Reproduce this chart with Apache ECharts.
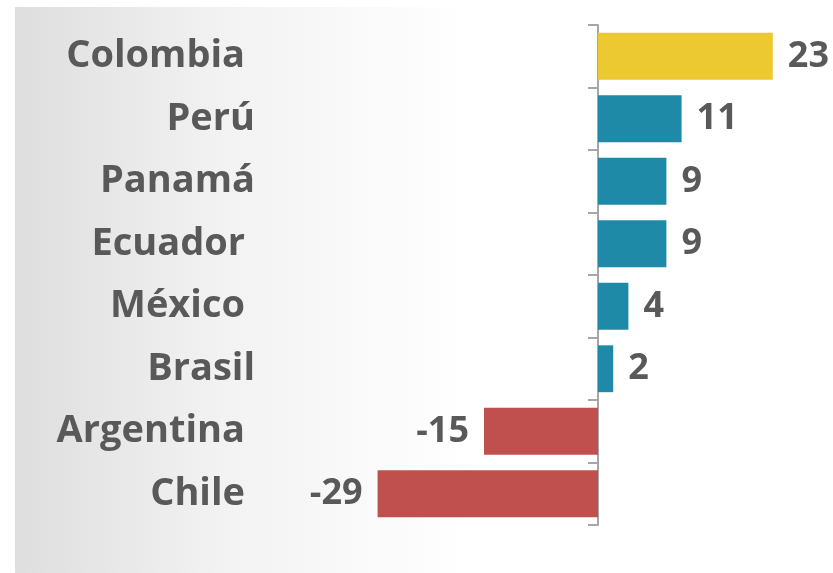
<!DOCTYPE html>
<html>
<head>
<meta charset="utf-8">
<script src="https://cdn.jsdelivr.net/npm/echarts@6/dist/echarts.min.js"></script>
<style>
html,body{margin:0;padding:0;background:#fff;}
#chart{width:833px;height:573px;}
</style>
</head>
<body>
<div id="chart"></div>
<script>
const categories = ['Colombia', 'Perú', 'Panamá', 'Ecuador', 'México', 'Brasil', 'Argentina', 'Chile'];
const values = [23, 11, 9, 9, 4, 2, -15, -29];
const barColors = ['#ECC831', '#1F8AA7', '#1F8AA7', '#1F8AA7', '#1F8AA7', '#1F8AA7', '#C0504D', '#C0504D'];
// label right-edge offsets seen in the reference (some labels sit further right)
const labelShift = [10, 0, 0, 10, 10, 0, 10, 10];

const chart = echarts.init(document.getElementById('chart'), null, {renderer: 'canvas'});
const font = '"Open Sans", "DejaVu Sans", sans-serif';

chart.setOption({
  animation: false,
  backgroundColor: '#ffffff',
  graphic: [{
    type: 'rect',
    z: -10,
    silent: true,
    shape: {x: 15, y: 7, width: 818, height: 566},
    style: {
      fill: new echarts.graphic.LinearGradient(0, 0, 1, 0, [
        {offset: 0, color: '#dedede'},
        {offset: 0.25, color: '#f2f2f2'},
        {offset: 0.55, color: '#ffffff'},
        {offset: 1, color: '#ffffff'}
      ])
    }
  }],
  grid: {left: 370, right: 7, top: 25, bottom: 48, containLabel: false, outerBoundsMode: 'none'},
  xAxis: {
    type: 'value', min: -30, max: 30, show: false,
    splitLine: {show: false}
  },
  yAxis: {
    type: 'category',
    inverse: true,
    data: categories.map((c, i) => ({value: c, textStyle: {padding: [0, labelShift[i], 0, 0]}})),
    axisLine: {show: true, onZero: true, lineStyle: {color: '#a6a6a6', width: 2}},
    axisTick: {show: true, length: 10, lineStyle: {color: '#a6a6a6', width: 2}},
    axisLabel: {
      margin: 115,
      color: '#595959',
      fontFamily: font,
      fontWeight: 'bold',
      fontSize: 38,
      align: 'right'
    },
    splitLine: {show: false}
  },
  series: [{
    type: 'bar',
    barWidth: '75%',
    data: values.map((v, i) => ({
      value: v,
      itemStyle: {color: barColors[i]},
      label: {position: v < 0 ? 'left' : 'right'}
    })),
    label: {
      show: true,
      distance: 15,
      color: '#595959',
      fontFamily: font,
      fontWeight: 'bold',
      fontSize: 36
    }
  }]
});
</script>
</body>
</html>
